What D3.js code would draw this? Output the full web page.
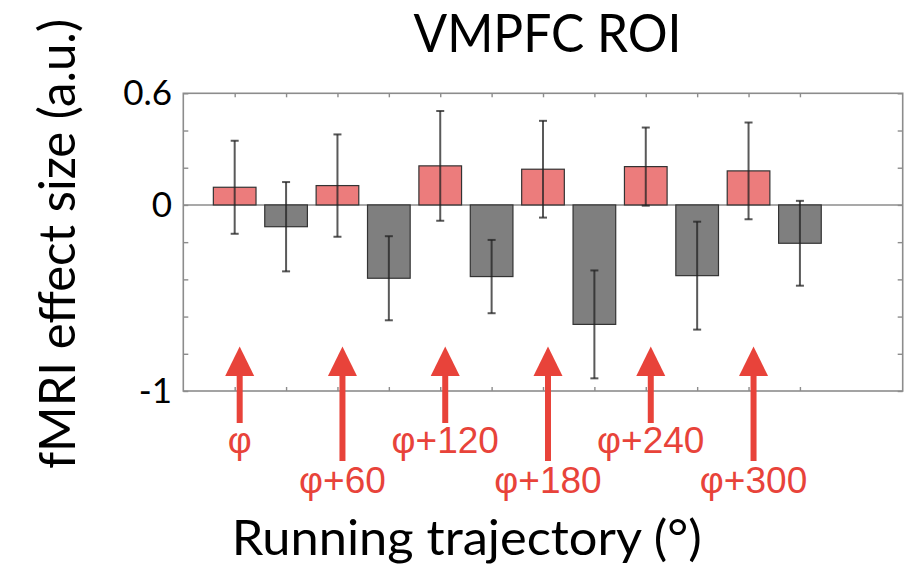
<!DOCTYPE html>
<html>
<head>
<meta charset="utf-8">
<script src="https://cdn.jsdelivr.net/npm/d3@7"></script>
<style>
  body { margin: 0; background: #fff; }
  svg { font-family: Lato, "Open Sans", sans-serif; }
</style>
</head>
<body>
<svg id="chart" width="917" height="571"></svg>
<script>
// Data
var positions  = [1, 2, 3, 4, 5, 6, 7, 8, 9, 10, 11, 12];
var effects    = [0.095, -0.117, 0.104, -0.394, 0.21, -0.385, 0.192, -0.642, 0.206, -0.38, 0.183, -0.206];
var errors     = [0.25, 0.24, 0.275, 0.226, 0.295, 0.197, 0.26, 0.29, 0.21, 0.29, 0.26, 0.228];
var arrowAt    = [1, 3, 5, 7, 9, 11];
var arrowText  = ["φ", "φ+60", "φ+120", "φ+180", "φ+240", "φ+300"];
var yTickMarks = [-1, -0.8, -0.6, -0.4, -0.2, 0, 0.2, 0.4, 0.6];
var yTickText  = [0.6, 0, -1];

var RED   = "#ec7c7c";
var GRAY  = "#7f7f7f";
var ARROW = "#e8433a";

var svg = d3.select("#chart");

var x = d3.scaleLinear().domain([0, 14]).range([183.3, 902.7]);
var y = d3.scaleLinear().domain([-1, 0.6]).range([391, 93.3]);
var barW = x(0.83) - x(0);

// Box with inward ticks on all four sides (matlab style)
var box = svg.append("g");
box.append("rect")
   .attr("x", x(0)).attr("y", y(0.6))
   .attr("width", x(14) - x(0)).attr("height", y(-1) - y(0.6))
   .attr("fill", "none").attr("stroke", "#8c8c8c").attr("stroke-width", 1.6);

box.append("g").attr("transform", "translate(" + x(0) + ",0)")
   .call(d3.axisRight(y).tickValues(yTickMarks).tickSize(5).tickFormat(""));
box.append("g").attr("transform", "translate(" + x(14) + ",0)")
   .call(d3.axisLeft(y).tickValues(yTickMarks).tickSize(5).tickFormat(""));
box.append("g").attr("transform", "translate(0," + y(-1) + ")")
   .call(d3.axisTop(x).tickValues(positions).tickSize(4).tickFormat(""));
box.append("g").attr("transform", "translate(0," + y(0.6) + ")")
   .call(d3.axisBottom(x).tickValues(positions).tickSize(4).tickFormat(""));
box.selectAll(".domain").remove();
box.selectAll(".tick line").attr("stroke", "#8c8c8c").attr("stroke-width", 1.4);

// y tick labels
svg.append("g").selectAll("text")
   .data(yTickText)
   .enter().append("text")
   .attr("x", 172)
   .attr("y", function (d) { return y(d) + 12; })
   .attr("text-anchor", "end")
   .attr("font-size", 35)
   .attr("fill", "#000")
   .text(function (d) { return d; });

// zero baseline
svg.append("line")
   .attr("x1", x(0)).attr("x2", x(14))
   .attr("y1", y(0)).attr("y2", y(0))
   .attr("stroke", "#8c8c8c").attr("stroke-width", 1.4);

// Bars
svg.append("g").selectAll("rect")
   .data(positions)
   .enter().append("rect")
   .attr("x", function (d) { return x(d) - barW / 2; })
   .attr("y", function (d, i) { return y(Math.max(0, effects[i])); })
   .attr("width", barW)
   .attr("height", function (d, i) { return Math.abs(y(effects[i]) - y(0)); })
   .attr("fill", function (d, i) { return effects[i] >= 0 ? RED : GRAY; })
   .attr("stroke", "#333")
   .attr("stroke-width", 1.2);

// Error bars
var eb = svg.append("g").attr("stroke", "#222").attr("stroke-opacity", 0.75).attr("stroke-width", 2);
positions.forEach(function (p, i) {
  var cx = x(p), top = y(effects[i] + errors[i]), bot = y(effects[i] - errors[i]);
  eb.append("line").attr("x1", cx).attr("x2", cx).attr("y1", top).attr("y2", bot);
  eb.append("line").attr("x1", cx - 4).attr("x2", cx + 4).attr("y1", top).attr("y2", top);
  eb.append("line").attr("x1", cx - 4).attr("x2", cx + 4).attr("y1", bot).attr("y2", bot);
});

// Red arrows with angle labels, alternating short / long
var arrows = svg.append("g").selectAll("g")
   .data(arrowAt)
   .enter().append("g")
   .attr("transform", function (d) { return "translate(" + (x(d) + 5) + ",0)"; });

arrows.append("line")
   .attr("x1", 0).attr("x2", 0)
   .attr("y1", 372)
   .attr("y2", function (d, i) { return i % 2 ? 461 : 423; })
   .attr("stroke", ARROW).attr("stroke-width", 6);

arrows.append("path")
   .attr("d", "M0,346.5 L14.5,376 L-14.5,376 Z")
   .attr("fill", ARROW);

arrows.append("text")
   .attr("x", 0)
   .attr("y", function (d, i) { return i % 2 ? 493 : 453; })
   .attr("text-anchor", "middle")
   .style("font-family", "'Liberation Sans', Arial, sans-serif")
   .attr("font-size", 37)
   .attr("fill", ARROW)
   .text(function (d, i) { return arrowText[i]; });

// Titles
svg.append("text")
   .attr("x", 547.5).attr("y", 52)
   .attr("text-anchor", "middle")
   .attr("font-size", 53)
   .attr("textLength", 268).attr("lengthAdjust", "spacingAndGlyphs")
   .attr("fill", "#000")
   .text("VMPFC ROI");

svg.append("text")
   .attr("x", 466.7).attr("y", 555)
   .attr("text-anchor", "middle")
   .attr("font-size", 49)
   .attr("textLength", 470).attr("lengthAdjust", "spacingAndGlyphs")
   .attr("fill", "#000")
   .text("Running trajectory (°)");

svg.append("text")
   .attr("transform", "translate(75,244) rotate(-90)")
   .attr("text-anchor", "middle")
   .attr("font-size", 50)
   .attr("textLength", 450).attr("lengthAdjust", "spacingAndGlyphs")
   .attr("fill", "#000")
   .text("fMRI effect size (a.u.)");
</script>
</body>
</html>
